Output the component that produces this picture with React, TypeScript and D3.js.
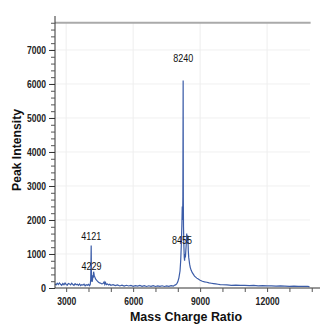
import React, { useRef, useEffect } from 'react'
import * as d3 from 'd3'

// mass/charge values and intensities
const massValues = [
  2500, 2550, 2600, 2650, 2700, 2750, 2800, 2850, 2900, 2950, 3000, 3050, 3100, 3150, 3200,
  3250, 3300, 3350, 3400, 3450, 3500, 3550, 3600, 3650, 3700, 3750, 3800, 3850, 3900, 3950,
  4000, 4050, 4080, 4100, 4110, 4121, 4130, 4145, 4160, 4180, 4200, 4215, 4229, 4245, 4260,
  4280, 4300, 4330, 4360, 4400, 4450, 4500, 4550, 4600, 4650, 4700, 4730, 4760, 4800, 4850,
  4900, 4950, 5000, 5100, 5200, 5300, 5400, 5500, 5600, 5700, 5800, 5900, 6000, 6100, 6200,
  6300, 6400, 6500, 6600, 6700, 6800, 6900, 7000, 7100, 7200, 7300, 7400, 7500, 7600, 7700,
  7800, 7850, 7900, 7950, 8000, 8050, 8100, 8130, 8160, 8185, 8200, 8215, 8228, 8240, 8248,
  8256, 8265, 8275, 8290, 8305, 8320, 8340, 8360, 8380, 8400, 8420, 8440, 8455, 8470, 8490,
  8510, 8530, 8560, 8600, 8650, 8700, 8750, 8800, 8850, 8900, 8950, 9000, 9100, 9200, 9300,
  9400, 9500, 9600, 9700, 9800, 9900, 10000, 10200, 10400, 10600, 10800, 11000, 11200, 11400,
  11600, 11800, 12000, 12200, 12400, 12600, 12800, 13000, 13200, 13400, 13600, 13800, 13900
]
const intensityValues = [
  120, 90, 140, 100, 150, 110, 80, 130, 95, 145, 105, 85, 135, 120, 90,
  140, 100, 75, 125, 95, 110, 80, 120, 70, 100, 85, 115, 65, 95, 80,
  105, 70, 110, 250, 700, 1250, 500, 220, 180, 240, 380, 300, 480, 420, 350,
  330, 290, 250, 230, 200, 170, 150, 140, 120, 130, 180, 110, 160, 100, 120,
  90, 110, 80, 100, 70, 90, 60, 85, 55, 80, 60, 75, 50, 70, 55,
  75, 50, 70, 45, 65, 50, 70, 45, 60, 50, 65, 45, 60, 50, 70,
  55, 80, 90, 120, 180, 300, 500, 800, 1300, 1900, 2400, 2000, 2700, 6100, 2600,
  1800, 1500, 1200, 900, 800, 1000, 900, 1100, 1300, 1600, 1300, 1550, 1450, 1100, 900,
  800, 700, 600, 520, 450, 400, 350, 320, 290, 270, 250, 230, 200, 180, 170,
  150, 140, 130, 120, 110, 100, 95, 90, 80, 85, 75, 80, 70, 75,
  65, 70, 60, 65, 55, 60, 55, 50, 55, 45, 50, 45, 40
]

const peakLabels = [
  { mass: 8240, value: 6100, text: '8240', dx: 0, dy: -19 },
  { mass: 4121, value: 1250, text: '4121', dx: 0, dy: -5 },
  { mass: 4229, value: 480, text: '4229', dx: -2, dy: -2 },
  { mass: 8455, value: 1450, text: '8455', dx: -6, dy: 5 }
]

const xMajorTicks = [3000, 6000, 9000, 12000]
const yMajorTicks = [0, 1000, 2000, 3000, 4000, 5000, 6000, 7000]

const font = "'Liberation Sans', Arimo, sans-serif"

export default function App() {
  const gRef = useRef<SVGGElement>(null)

  useEffect(() => {
    const g = d3.select(gRef.current)
    g.selectAll('*').remove()

    const x = d3.scaleLinear().domain([2500, 14370]).range([55, 320])
    const y = d3.scaleLinear().domain([0, 7940]).range([288, 18])

    // grid
    g.selectAll('.hgrid')
      .data(yMajorTicks.slice(1))
      .enter()
      .append('line')
      .attr('x1', 55)
      .attr('x2', 310)
      .attr('y1', d => y(d))
      .attr('y2', d => y(d))
      .attr('stroke', '#f0f0f0')
    g.selectAll('.vgrid')
      .data(xMajorTicks)
      .enter()
      .append('line')
      .attr('x1', d => x(d))
      .attr('x2', d => x(d))
      .attr('y1', y(7800))
      .attr('y2', 288)
      .attr('stroke', '#eeeeee')

    g.append('line')
      .attr('x1', 55)
      .attr('x2', x(13950))
      .attr('y1', y(7800))
      .attr('y2', y(7800))
      .attr('stroke', '#aaaaaa')
      .attr('stroke-width', 2)

    // spectrum
    const pts = massValues.map((m, i) => [m, intensityValues[i]] as [number, number])
    const line = d3
      .line<[number, number]>()
      .x(d => x(d[0]))
      .y(d => y(d[1]))
    g.append('path')
      .datum(pts)
      .attr('d', line)
      .attr('fill', 'none')
      .attr('stroke', '#3b5ca8')
      .attr('stroke-width', 1.2)

    // y axis
    const yAxis = d3
      .axisLeft(y)
      .tickValues(d3.range(0, 7801, 200))
      .tickSize(4)
      .tickFormat(() => '')
    const ya = g.append('g').attr('transform', 'translate(55,0)').call(yAxis)
    ya.select('.domain').attr('d', 'M0,16V288').attr('stroke', '#333')
    ya.selectAll('.tick line').attr('stroke', '#555')
    const yMaj = d3.axisLeft(y).tickValues(yMajorTicks).tickSize(6).tickPadding(3).tickFormat(d3.format('d'))
    const ym = g.append('g').attr('transform', 'translate(55,0)').call(yMaj)
    ym.select('.domain').remove()
    ym.selectAll('.tick line').attr('stroke', '#333')
    ym.selectAll<SVGTextElement, number>('text')
      .attr('font-family', font)
      .attr('font-size', 11)
      .attr('font-weight', 'bold')
      .attr('fill', '#222')
      .attr('lengthAdjust', 'spacingAndGlyphs')
      .attr('textLength', d => (String(d).length === 1 ? 5 : 19))

    // x axis
    const xAxis = d3
      .axisBottom(x)
      .tickValues(d3.range(3000, 14001, 1000))
      .tickSize(4)
      .tickFormat(() => '')
    const xa = g.append('g').attr('transform', 'translate(0,288)').call(xAxis)
    xa.select('.domain').attr('d', 'M55,0H320').attr('stroke', '#333')
    xa.selectAll('.tick line').attr('stroke', '#555')
    const xMaj = d3.axisBottom(x).tickValues(xMajorTicks).tickSize(0).tickPadding(9).tickFormat(d3.format('d'))
    const xm = g.append('g').attr('transform', 'translate(0,288)').call(xMaj)
    xm.select('.domain').remove()
    xm.selectAll<SVGTextElement, number>('text')
      .attr('font-family', font)
      .attr('font-size', 11)
      .attr('font-weight', 'bold')
      .attr('fill', '#222')
      .attr('lengthAdjust', 'spacingAndGlyphs')
      .attr('textLength', d => (String(d).length === 5 ? 24 : 19))

    // peak labels
    g.selectAll('.peak')
      .data(peakLabels)
      .enter()
      .append('text')
      .attr('x', d => x(d.mass) + d.dx)
      .attr('y', d => y(d.value) + d.dy)
      .attr('text-anchor', 'middle')
      .attr('font-family', font)
      .attr('font-size', 11)
      .attr('fill', '#111')
      .attr('lengthAdjust', 'spacingAndGlyphs')
      .attr('textLength', 20)
      .text(d => d.text)

    // titles
    g.append('text')
      .attr('x', 186)
      .attr('y', 321)
      .attr('text-anchor', 'middle')
      .attr('font-family', font)
      .attr('font-size', 13)
      .attr('font-weight', 'bold')
      .attr('fill', '#111')
      .attr('lengthAdjust', 'spacingAndGlyphs')
      .attr('textLength', 112)
      .text('Mass Charge Ratio')
    g.append('text')
      .attr('transform', 'translate(21,150) rotate(-90)')
      .attr('text-anchor', 'middle')
      .attr('font-family', font)
      .attr('font-size', 13)
      .attr('font-weight', 'bold')
      .attr('fill', '#111')
      .attr('lengthAdjust', 'spacingAndGlyphs')
      .attr('textLength', 82)
      .text('Peak Intensity')
  }, [])

  return (
    <svg width={326} height={326} style={{ position: 'absolute', left: 0, top: 0, background: '#fff' }}>
      <g ref={gRef} />
    </svg>
  )
}
